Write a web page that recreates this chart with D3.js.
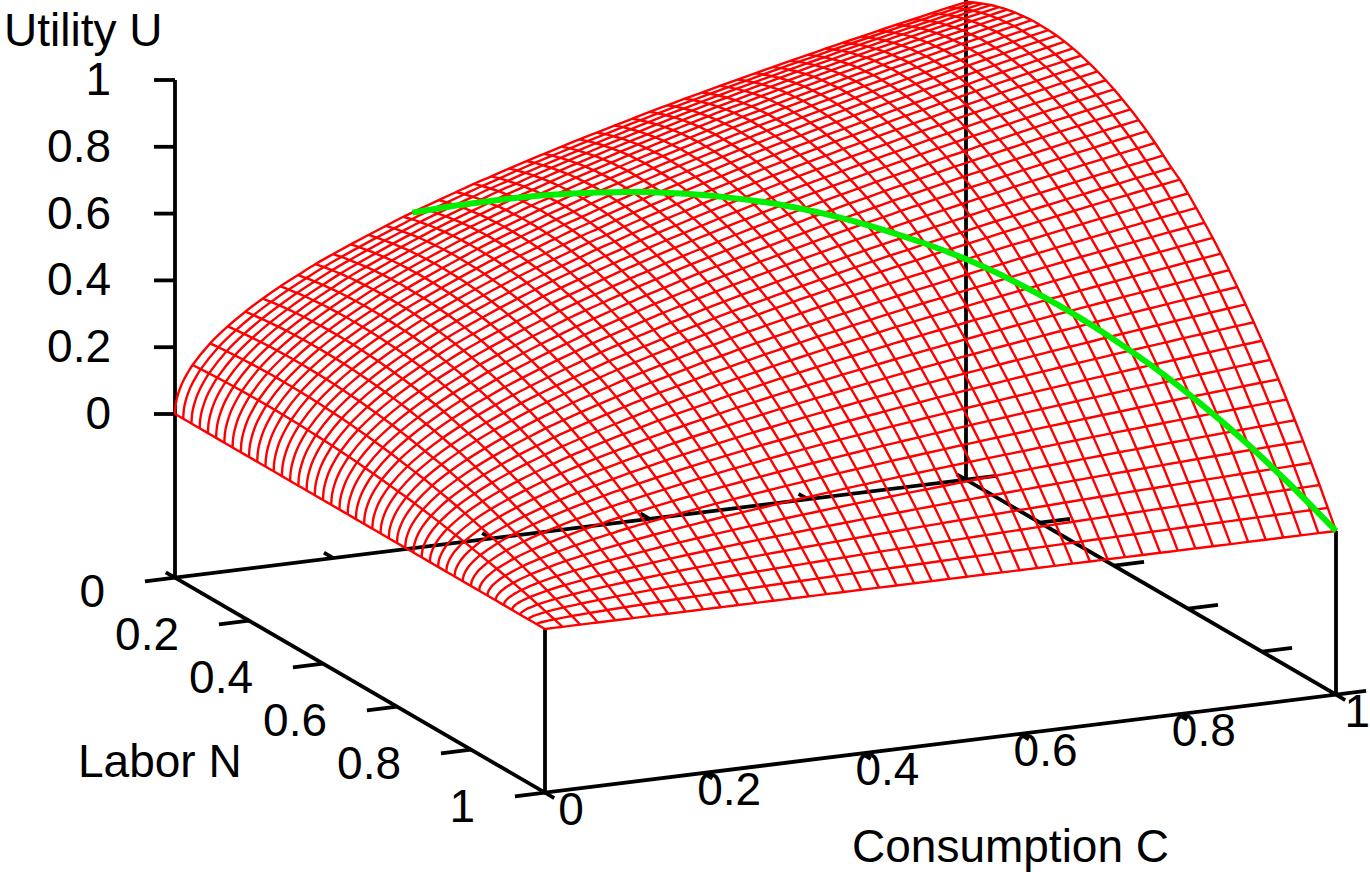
<!DOCTYPE html>
<html>
<head>
<meta charset="utf-8">
<script src="https://cdn.jsdelivr.net/npm/d3@7"></script>
<style>
  html, body { margin: 0; padding: 0; background: #fff; }
  svg { display: block; }
  text { font-family: "Liberation Sans", sans-serif; font-size: 46px; fill: #000; }
</style>
</head>
<body>
<div id="chart"></div>
<script>
// Surface edges, one value per mesh line (46 x 46)
const utilityAlongC = [0, .149, .211, .258, .298, .333, .365, .394, .422, .447, .471, .494, .516, .538, .558, .577, .596, .615, .632, .65, .667, .683, .699, .715, .73, .745, .76, .775, .789, .803, .816, .83, .843, .856, .869, .882, .894, .907, .919, .931, .943, .955, .966, .978, .989, 1];
const utilityAlongN = [.94, .953, .964, .974, .982, .989, .994, .997, 1, 1, .999, .997, .993, .987, .98, .971, .961, .949, .936, .921, .905, .887, .868, .847, .824, .801, .78, .753, .724, .694, .663, .63, .595, .559, .521, .482, .441, .398, .354, .308, .26, .212, .161, .109, .055, 0];

// Extra samples of the steep rise next to C = 0, before the first mesh line
const nearZeroC = [0, .0005, .001, .002, .004, .007, .011, .016];
const nearZeroU = [0, .022, .032, .045, .063, .084, .105, .126];

// Green path on the surface
const pathC = [.3, .335, .37, .405, .44, .475, .51, .545, .58, .615, .65, .685, .72, .755, .79, .825, .86, .895, .93, .965, 1];
const pathN = [0, .05, .1, .15, .2, .25, .3, .35, .4, .45, .5, .55, .6, .65, .7, .75, .8, .85, .9, .95, 1];
const pathU = [.515, .559, .599, .634, .663, .686, .702, .711, .713, .706, .691, .668, .638, .596, .544, .481, .408, .323, .227, .118, 0];

const uTicks = [0, .2, .4, .6, .8, 1];
const cTicks = [0, .2, .4, .6, .8, 1];
const nTicks = [0, .2, .4, .6, .8, 1];

const width = 1370, height = 872;
const uBase = -0.49; // floor of the box, below U = 0

const svg = d3.select("#chart").append("svg")
  .attr("width", width)
  .attr("height", height);

// gnuplot style parallel projection: each axis adds a fixed screen offset
const xOfC = d3.scaleLinear().domain([0, 1]).range([0, 791]);
const yOfC = d3.scaleLinear().domain([0, 1]).range([0, -98]);
const xOfN = d3.scaleLinear().domain([0, 1]).range([0, 370]);
const yOfN = d3.scaleLinear().domain([0, 1]).range([0, 215]);
const yOfU = d3.scaleLinear().domain([0, 1]).range([0, -334]);

function project(c, n, u) {
  return [175 + xOfC(c) + xOfN(n), 414 + yOfC(c) + yOfN(n) + yOfU(u)];
}

const line = d3.line();
const smooth = d3.line().curve(d3.curveCatmullRom);

function black(points) {
  svg.append("path")
    .attr("d", line(points))
    .attr("fill", "none")
    .attr("stroke", "#000")
    .attr("stroke-width", 3.8);
}

// Box floor
black([[0, 0], [0, 1], [1, 1], [1, 0], [0, 0]].map(d => project(d[0], d[1], uBase)));

// Uprights
black([project(0, 0, uBase), project(0, 0, 1)]);
black([project(0, 1, uBase), project(0, 1, 0)]);
black([project(1, 1, uBase), project(1, 1, 0)]);
black([project(1, 0, uBase), project(1, 0, 1)]);

// U ticks
uTicks.forEach(u => {
  const p = project(0, 0, u);
  black([[p[0] - 21, p[1]], p]);
  svg.append("text")
    .attr("x", 111)
    .attr("y", p[1] + 15)
    .attr("text-anchor", "end")
    .text(u);
});

// C ticks, short, on both floor edges
cTicks.forEach(c => {
  black([project(c, -0.025, uBase), project(c, 0, uBase)]);
  black([project(c, 1, uBase), project(c, 1.025, uBase)]);
  const p = project(c, 1, uBase);
  // last label sits against the page edge, so pin it there
  svg.append("text")
    .attr("x", c === 1 ? width : p[0] + 26)
    .attr("y", p[1] + 32)
    .attr("text-anchor", c === 1 ? "end" : "middle")
    .text(c);
});

// N ticks, long, on both floor edges
nTicks.forEach(n => {
  black([project(-0.038, n, uBase), project(0, n, uBase)]);
  black([project(1, n, uBase), project(1.038, n, uBase)]);
  const p = project(0, n, uBase);
  svg.append("text")
    .attr("x", p[0] - 70)
    .attr("y", p[1] + 29)
    .attr("text-anchor", "end")
    .text(n);
});

// Mesh
const cGrid = d3.range(utilityAlongC.length).map(i => i / (utilityAlongC.length - 1));
const nGrid = d3.range(utilityAlongN.length).map(j => j / (utilityAlongN.length - 1));
const mesh = svg.append("g")
  .attr("fill", "none")
  .attr("stroke", "#ff0000")
  .attr("stroke-width", 2.4);

cGrid.forEach((c, i) => {
  mesh.append("path")
    .attr("d", smooth(nGrid.map((n, j) => project(c, n, utilityAlongC[i] * utilityAlongN[j]))));
});
nGrid.forEach((n, j) => {
  const head = nearZeroC.map((c, k) => project(c, n, nearZeroU[k] * utilityAlongN[j]));
  const rest = cGrid.slice(1).map((c, i) => project(c, n, utilityAlongC[i + 1] * utilityAlongN[j]));
  mesh.append("path").attr("d", smooth(head.concat(rest)));
});

// Green path
svg.append("path")
  .attr("d", smooth(pathC.map((c, i) => project(c, pathN[i], pathU[i]))))
  .attr("fill", "none")
  .attr("stroke", "#00ee00")
  .attr("stroke-width", 6);

// Axis titles
svg.append("text").attr("x", 4).attr("y", 46).text("Utility U");
svg.append("text").attr("x", 78).attr("y", 777).text("Labor N");
svg.append("text").attr("x", 852).attr("y", 862).text("Consumption C");
</script>
</body>
</html>
